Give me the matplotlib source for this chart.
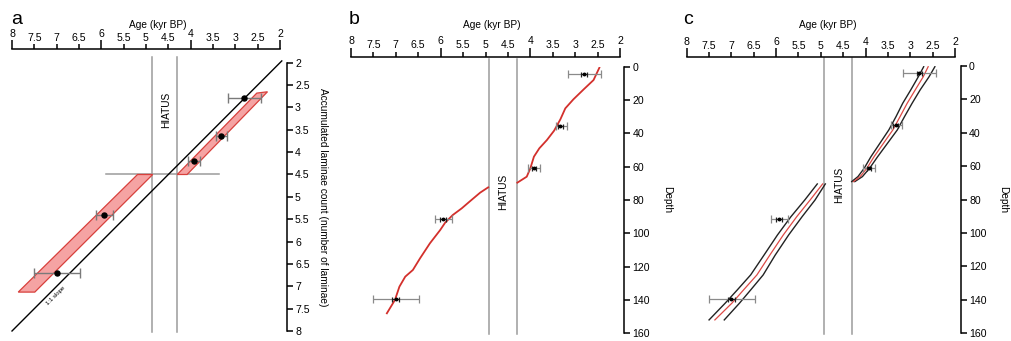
import numpy as np
import matplotlib
matplotlib.use('Agg')
import matplotlib.pyplot as plt

plt.rcParams['font.family'] = ['Liberation Sans', 'DejaVu Sans']

W, H = 1011, 341

# dated layers (same five dates in every panel)
date_age = [2.80, 3.33, 3.92, 5.94, 7.00]
date_lam = [2.78, 3.63, 4.19, 5.40, 6.70]
date_depth = [4.5, 35.5, 61.0, 91.5, 139.5]
err_young = [0.37, 0.14, 0.13, 0.20, 0.52]
err_old = [0.36, 0.10, 0.14, 0.18, 0.50]
err_inner = [0.06, 0.05, 0.05, 0.07, 0.08]

# panel a: lamina-count bands (polygon corners)
band_up_age = [4.30, 2.52, 2.28, 4.08]
band_up_lam = [4.50, 2.68, 2.65, 4.50]
band_lo_age = [5.19, 7.86, 7.49, 4.85]
band_lo_lam = [4.50, 7.13, 7.13, 4.50]
slope_line = [1.96, 8.0]
hiatus_cut = [5.90, 3.36]
hiatus_a = [4.87, 4.30]
hiatus_bc = [4.92, 4.30]

# panel b: age-depth model
b_up_depth = [0.6, 8, 13.6, 19.6, 25, 31.6, 38.4, 44, 49, 54, 61, 66, 69.6]
b_up_age = [2.46, 2.59, 2.81, 3.04, 3.22, 3.33, 3.47, 3.63, 3.80, 3.92, 4.00, 4.08, 4.29]
b_lo_depth = [72.4, 75.6, 80.6, 85, 89, 93.6, 98, 106, 115, 122, 126, 132, 140, 148]
b_lo_age = [4.94, 5.12, 5.34, 5.53, 5.73, 5.90, 6.01, 6.24, 6.46, 6.62, 6.79, 6.92, 7.02, 7.20]

# panel c: model with envelope
c_up_depth = [0.6, 6.6, 14.5, 22.5, 30.5, 38.4, 46.4, 54.4, 61.3, 66.3, 69.3]
c_up_mid = [2.60, 2.71, 2.89, 3.07, 3.23, 3.39, 3.60, 3.81, 3.97, 4.12, 4.27]
c_up_old = [2.70, 2.82, 2.99, 3.17, 3.32, 3.48, 3.68, 3.88, 4.03, 4.17, 4.31]
c_up_young = [2.45, 2.58, 2.78, 2.96, 3.13, 3.29, 3.51, 3.73, 3.91, 4.07, 4.24]
c_lo_depth = [70.7, 80.3, 90.3, 101.2, 113.2, 125.1, 134.1, 142, 152]
c_lo_mid = [4.96, 5.24, 5.54, 5.84, 6.14, 6.43, 6.73, 6.99, 7.37]
c_lo_old = [5.08, 5.36, 5.67, 5.97, 6.27, 6.57, 6.87, 7.14, 7.50]
c_lo_young = [4.90, 5.13, 5.42, 5.72, 6.02, 6.29, 6.57, 6.82, 7.16]

x_major = [2, 4, 6, 8]
x_minor = [2.5, 3, 3.5, 4.5, 5, 5.5, 6.5, 7, 7.5]

RED = '#d3302c'
GREY = '#9b9b9b'
TICK_FS = 7.6
LAB_FS = 7.3

fig = plt.figure(figsize=(W / 100, H / 100), dpi=100)


def px_axes(x0, x1, ytop, ybot):
    return fig.add_axes([x0 / W, 1 - ybot / H, (x1 - x0) / W, (ybot - ytop) / H])


def setup(ax, ylim, yticks, top_off, right_off):
    ax.set_xlim(8, 2)
    ax.set_ylim(ylim[1], ylim[0])
    ax.patch.set_visible(False)
    ax.spines['left'].set_visible(False)
    ax.spines['bottom'].set_visible(False)
    ax.spines['top'].set_position(('outward', top_off * 0.72))
    ax.spines['right'].set_position(('outward', right_off * 0.72))
    ax.spines['top'].set_bounds(2, 8)
    ax.spines['right'].set_bounds(ylim[0], ylim[1])
    for s in ['top', 'right']:
        ax.spines[s].set_linewidth(1.1)
    ax.xaxis.tick_top()
    ax.yaxis.tick_right()
    ax.set_xticks(x_major)
    ax.set_xticks(x_minor, minor=True)
    ax.set_xticklabels(['%g' % v for v in x_major])
    ax.set_xticklabels(['%g' % v for v in x_minor], minor=True)
    ax.set_yticks(yticks)
    ax.set_yticklabels(['%g' % v for v in yticks])
    ax.tick_params(axis='x', which='major', length=6.5, width=1.1, labelsize=TICK_FS, pad=1.2)
    ax.tick_params(axis='x', which='minor', length=3.5, width=1.1, labelsize=TICK_FS, pad=1.2)
    ax.tick_params(axis='y', length=4.5, width=1.1, labelsize=TICK_FS, pad=1.5)


def dates(ax, yvals):
    ax.errorbar(date_age, yvals, xerr=[err_young, err_old], fmt='none',
                ecolor='#8a8a8a', elinewidth=0.9, capsize=2.9, capthick=0.9, zorder=4)
    ax.errorbar(date_age, yvals, xerr=err_inner, fmt='o', color='black', ms=1.8,
                ecolor='#222222', elinewidth=0.9, capsize=1.8, capthick=0.9, zorder=5)


# ---- panel a ----
ax = px_axes(12, 280, 62.7, 331)
setup(ax, (2, 8), np.arange(2, 8.01, 0.5), 13.4, 6.7)
for h in hiatus_a:
    ax.plot([h, h], [1.88, 8.03], color=GREY, lw=1.1, clip_on=False)
ax.plot(hiatus_cut, [4.5, 4.5], color=GREY, lw=1.1)
ax.fill(band_up_age, band_up_lam, facecolor='#f5a3a3', edgecolor='#d8403c', lw=0.9, zorder=3)
ax.fill(band_lo_age, band_lo_lam, facecolor='#f5a3a3', edgecolor='#d8403c', lw=0.9, zorder=3)
ax.plot(slope_line, slope_line, color='black', lw=1, clip_on=False, zorder=3)
ax.errorbar(date_age, date_lam, xerr=[err_young, err_old], fmt='o', color='black', ms=3.6,
            ecolor='#7a7a7a', elinewidth=1, capsize=3.5, capthick=1, zorder=5)
ax.text(4.54, 3.06, 'HIATUS', rotation=90, ha='center', va='center', fontsize=LAB_FS)
ax.text(7.03, 7.22, '1:1 slope', rotation=45, ha='center', va='center', fontsize=4.3,
        rotation_mode='anchor')

# ---- panel b ----
ax = px_axes(351, 620, 66.7, 333.3)
setup(ax, (0, 160), np.arange(0, 161, 20), 10, 4.3)
for h in hiatus_bc:
    ax.plot([h, h], [-4.6, 160.4], color=GREY, lw=1.1, clip_on=False)
ax.plot(b_up_age, b_up_depth, color=RED, lw=1.3, zorder=3)
ax.plot(b_lo_age, b_lo_depth, color=RED, lw=1.3, zorder=3)
dates(ax, date_depth)
ax.text(4.61, 75, 'HIATUS', rotation=90, ha='center', va='center', fontsize=LAB_FS)

# ---- panel c ----
ax = px_axes(686.7, 955, 65.7, 333.3)
setup(ax, (0, 160), np.arange(0, 161, 20), 8.4, 5.7)
for h in hiatus_bc:
    ax.plot([h, h], [-4.6, 160.4], color=GREY, lw=1.1, clip_on=False)
for d, mid, old, young in [(c_up_depth, c_up_mid, c_up_old, c_up_young),
                           (c_lo_depth, c_lo_mid, c_lo_old, c_lo_young)]:
    ax.plot(old, d, color='#222222', lw=1, zorder=3)
    ax.plot(young, d, color='#222222', lw=1, zorder=3)
    ax.plot(mid, d, color='#dd4a46', lw=0.9, zorder=3)
dates(ax, date_depth)
ax.text(4.59, 71.3, 'HIATUS', rotation=90, ha='center', va='center', fontsize=LAB_FS)

# ---- labels in pixel positions ----
def ftext(x, y, s, **kw):
    fig.text(x / W, 1 - y / H, s, **kw)

ftext(158, 24.5, 'Age (kyr BP)', ha='center', va='center', fontsize=LAB_FS)
ftext(492, 25.5, 'Age (kyr BP)', ha='center', va='center', fontsize=LAB_FS)
ftext(828, 24.5, 'Age (kyr BP)', ha='center', va='center', fontsize=LAB_FS)
ftext(323, 197, 'Accumulated laminae count (number of laminae)', rotation=270,
      ha='center', va='center', fontsize=LAB_FS)
ftext(667, 200, 'Depth', rotation=270, ha='center', va='center', fontsize=LAB_FS)
ftext(1003, 200, 'Depth', rotation=270, ha='center', va='center', fontsize=LAB_FS)
ftext(11, 23.5, 'a', ha='left', va='baseline', fontsize=14)
ftext(349, 23.5, 'b', ha='left', va='baseline', fontsize=14)
ftext(683, 23.5, 'c', ha='left', va='baseline', fontsize=14)

fig.savefig('out.png', dpi=100)
